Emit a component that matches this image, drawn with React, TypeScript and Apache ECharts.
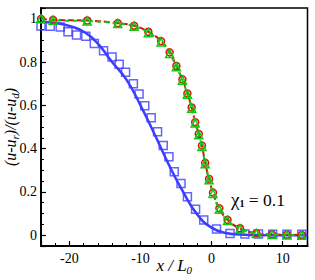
import React, { useEffect, useRef } from "react";
import * as echarts from "echarts";

// blue solid curve
const blueLineX = [-24, -22, -20, -18, -16, -14, -12, -10, -8, -6, -4, -2, 0, 2, 4, 6, 8, 10, 13.5];
const blueLineY = [0.985, 0.98, 0.967, 0.94, 0.885, 0.8, 0.72, 0.6, 0.465, 0.325, 0.2, 0.095, 0.035, 0.01, 0.003, 0.001, 0, 0, 0];

// blue squares
const blueSqX = [-24, -22.7, -21.3, -20.2, -19.0, -17.7, -16.5, -15.2, -14.0, -13.0, -12.1, -11.0, -10.2, -9.4, -8.5, -7.6, -6.8, -6.0, -5.25, -4.3, -3.4, -2.25, -1.1, 0.7, 2.6, 4.7, 6.6, 8.6, 10.6, 12.7];
const blueSqY = [0.967, 0.966, 0.962, 0.94, 0.925, 0.92, 0.886, 0.852, 0.824, 0.79, 0.753, 0.7, 0.653, 0.598, 0.543, 0.478, 0.415, 0.362, 0.293, 0.239, 0.178, 0.12, 0.07, 0.028, 0.008, 0.005, 0.005, 0.004, 0.004, 0.004];

// red circles (dashed red line)
const redX = [-24, -22.3, -17.5, -13.2, -10.9, -8.9, -7.1, -5.9, -4.95, -4.1, -3.4, -2.8, -2.3, -1.8, -1.35, -0.9, -0.35, 0.2, 1.1, 2.25, 4.0, 6.3, 8.5, 10.6, 12.7];
const redY = [1.0, 0.995, 0.992, 0.98, 0.968, 0.94, 0.897, 0.845, 0.782, 0.72, 0.655, 0.59, 0.522, 0.468, 0.414, 0.334, 0.26, 0.197, 0.124, 0.071, 0.032, 0.009, 0.004, 0.002, 0.001];

// green triangles (dashed green line)
const greenX = [-24, -22.3, -17.5, -13.2, -10.9, -8.9, -7.1, -5.9, -4.95, -4.1, -3.4, -2.8, -2.3, -1.8, -1.35, -0.9, -0.35, 0.2, 1.1, 2.25, 4.0, 6.3, 8.5, 10.6, 12.7];
const greenY = [1.0, 0.993, 0.99, 0.978, 0.966, 0.936, 0.893, 0.84, 0.778, 0.716, 0.651, 0.587, 0.518, 0.464, 0.41, 0.33, 0.256, 0.193, 0.12, 0.068, 0.03, 0.008, 0.003, 0.001, 0];

const zip = (xs: number[], ys: number[]) => xs.map((x, i) => [x, ys[i]]);

const BLUE = "#3d3dff";
const RED = "#e01010";
const GREEN = "#10c810";
const FONT = "'Liberation Serif', 'Times New Roman', serif";

export default function App() {
  const ref = useRef<HTMLDivElement>(null);
  useEffect(() => {
    if (!ref.current) return;
    const chart = echarts.init(ref.current, undefined, { renderer: "svg" });
    chart.setOption({
      animation: false,
      textStyle: { fontFamily: FONT },
      grid: {
        left: 41, right: 7.5, top: 8, bottom: 34,
        containLabel: false,
        outerBoundsMode: "none",
        show: true, borderColor: "#000", borderWidth: 1.5, backgroundColor: "transparent",
      },
      xAxis: {
        type: "value",
        min: -24,
        max: 13.5,
        splitLine: { show: false },
        axisLine: { onZero: false, lineStyle: { color: "#000", width: 2 } },
        axisTick: { inside: true, length: 5, lineStyle: { color: "#000", width: 1.2 } },
        minorTick: { show: true, splitNumber: 5, length: 3, lineStyle: { color: "#000", width: 1 } },
        axisLabel: {
          showMinLabel: false,
          showMaxLabel: false,
          color: "#000",
          fontFamily: FONT,
          fontSize: 14,
          margin: 5,
          formatter: (v: number) => (Math.abs(v % 10) < 1e-9 ? String(v) : ""),
        },
        name: "{i|x / L}{s|0}",
        nameLocation: "middle",
        nameGap: 9,
        nameMoveOverlap: false,
        nameTextStyle: {
          rich: {
            i: { fontFamily: FONT, fontStyle: "italic", fontSize: 17, color: "#000" },
            s: { fontFamily: FONT, fontStyle: "italic", fontSize: 11, color: "#000", padding: [9, 0, 0, 0] },
          },
        },
      },
      yAxis: {
        type: "value",
        min: -0.05,
        max: 1.05,
        splitLine: { show: false },
        axisLine: { onZero: false, lineStyle: { color: "#000", width: 2 } },
        axisTick: { inside: true, length: 5, lineStyle: { color: "#000", width: 1.2 } },
        minorTick: { show: true, splitNumber: 4, length: 3, lineStyle: { color: "#000", width: 1 } },
        axisLabel: {
          showMinLabel: false,
          showMaxLabel: false,
          color: "#000",
          fontFamily: FONT,
          fontSize: 14,
          margin: 4,
          formatter: (v: number) => {
            const r = Math.round(v * 10) / 10;
            if (Math.abs(v - r) > 1e-6 || r < 0) return "";
            return r === 0 ? "0" : r === 1 ? "1" : r.toFixed(1);
          },
        },
        name: "{i|(u-u}{s|r}{i|)/(u-u}{s|d}{i|)}",
        nameLocation: "middle",
        nameGap: 21,
        nameMoveOverlap: false,
        nameRotate: 90,
        nameTextStyle: {
          rich: {
            i: { fontFamily: FONT, fontStyle: "italic", fontSize: 16, color: "#000" },
            s: { fontFamily: FONT, fontStyle: "italic", fontSize: 11, color: "#000", padding: [8, 0, 0, 0] },
          },
        },
      },
      graphic: [
        {
          type: "text",
          left: 231,
          top: 190,
          style: {
            text: "{c|χ}{s|1}{t| = 0.1}",
            rich: {
              c: { fontFamily: FONT, fontSize: 19, fill: "#000" },
              s: { fontFamily: FONT, fontSize: 10, fontWeight: "bold", fill: "#000", padding: [8, 0, 0, 0] },
              t: { fontFamily: FONT, fontSize: 17.5, fill: "#000" },
            },
          },
        },
      ],
      series: [
        {
          type: "line",
          data: zip(blueLineX, blueLineY),
          smooth: true,
          showSymbol: false,
          lineStyle: { color: BLUE, width: 2.5 },
          z: 2,
        },
        {
          type: "scatter",
          data: zip(blueSqX, blueSqY),
          symbol: "rect",
          symbolSize: 8,
          itemStyle: { color: "rgba(255,255,255,0)", borderColor: BLUE, borderWidth: 1.5 },
          z: 3,
        },
        {
          type: "line",
          data: zip(redX, redY),
          smooth: true,
          symbol: "circle",
          symbolSize: 7,
          showAllSymbol: true,
          lineStyle: { color: RED, width: 2, type: [6, 3] },
          itemStyle: { color: "rgba(255,255,255,0)", borderColor: RED, borderWidth: 1.5 },
          z: 4,
        },
        {
          type: "line",
          data: zip(greenX, greenY),
          smooth: true,
          symbol: "triangle",
          symbolSize: 8,
          showAllSymbol: true,
          lineStyle: { color: GREEN, width: 2, type: [4, 4] },
          itemStyle: { color: "rgba(255,255,255,0)", borderColor: GREEN, borderWidth: 1.5 },
          z: 5,
        },
      ],
    });
    return () => chart.dispose();
  }, []);
  return <div ref={ref} style={{ width: 315, height: 280, position: "absolute", left: 0, top: 0 }} />;
}
